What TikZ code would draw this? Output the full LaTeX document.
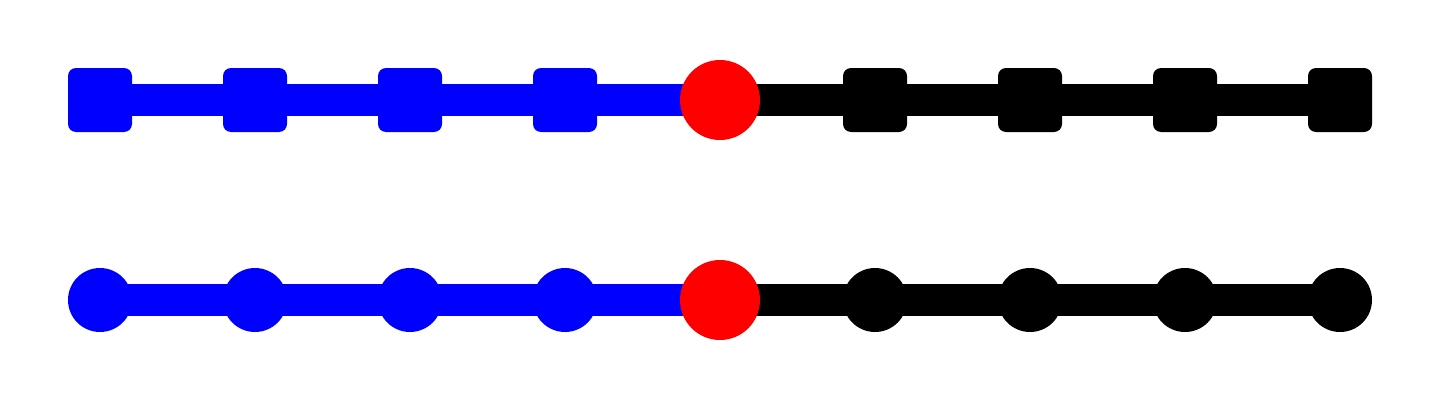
\documentclass[tikz,border=0pt]{standalone}
\usepackage{tikz}
\usetikzlibrary{backgrounds}

\tikzset{
	sqnode/.style={rectangle, rounded corners=8pt, minimum size=64pt, inner sep=0pt, fill=#1},
	dotnode/.style={circle, minimum size=64pt, inner sep=0pt, fill=#1},
	midnode/.style={circle, minimum size=80pt, inner sep=0pt, fill=red},
	track/.style={line width=32pt, draw=#1}
}

\begin{document}
\begin{tikzpicture}[x=1pt,y=1pt]
		\useasboundingbox (0,0) rectangle (1440,400);
		% top row: square stops
		\foreach \i in {1,...,4}
			{\node[sqnode=blue] (t\i) at ({100+155*(\i-1)},300) {};}
		\node[midnode] (t5) at (720,300) {};
		\foreach \i in {6,...,9}
			{\node[sqnode=black] (t\i) at ({100+155*(\i-1)},300) {};}
		% bottom row: round stops
		\foreach \i in {1,...,4}
			{\node[dotnode=blue] (b\i) at ({100+155*(\i-1)},100) {};}
		\node[midnode] (b5) at (720,100) {};
		\foreach \i in {6,...,9}
			{\node[dotnode=black] (b\i) at ({100+155*(\i-1)},100) {};}
		% tracks behind the stops
		\begin{scope}[on background layer]
			\draw[track=blue]  (t1.center) -- (t5.center);
			\draw[track=black] (t5.center) -- (t9.center);
			\draw[track=blue]  (b1.center) -- (b5.center);
			\draw[track=black] (b5.center) -- (b9.center);
		\end{scope}
	\end{tikzpicture}
\end{document}
